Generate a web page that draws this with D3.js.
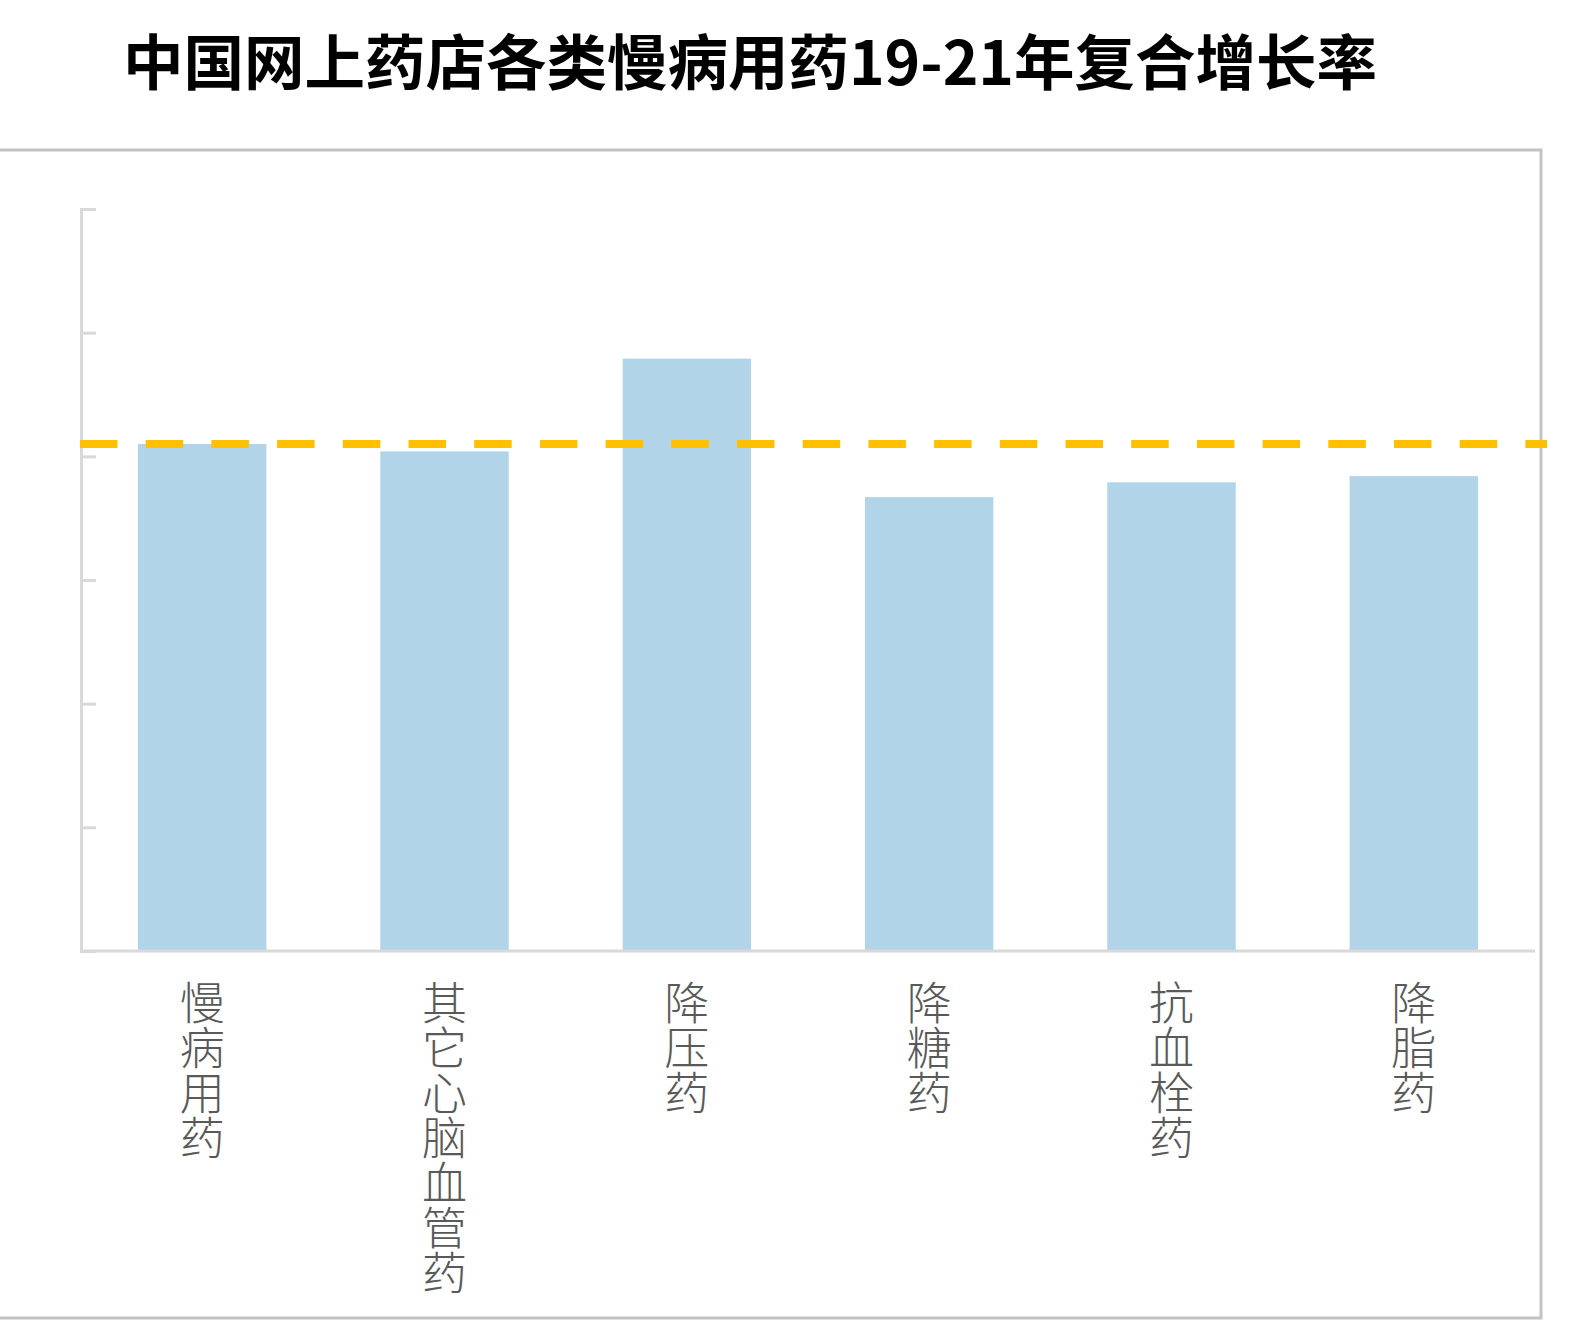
<!DOCTYPE html>
<html>
<head>
<meta charset="utf-8">
<script src="https://cdn.jsdelivr.net/npm/d3@7"></script>
<style>
  html, body { margin: 0; padding: 0; background: #fff; }
  svg { display: block; }
</style>
</head>
<body>
<div id="chart"></div>
<script>
// 各类慢病用药 19-21年复合增长率
const categories = ["慢病用药", "其它心脑血管药", "降压药", "降糖药", "抗血栓药", "降脂药"];
const growthRates = [0.410, 0.404, 0.479, 0.367, 0.379, 0.384];
const averageRate = 0.410;
const yTicks = [0, 0.1, 0.2, 0.3, 0.4, 0.5, 0.6];

const W = 1576, H = 1331;
const plotLeft = 81, plotRight = 1535, plotTop = 209, plotBottom = 951;

const svg = d3.select("#chart").append("svg")
    .attr("width", W)
    .attr("height", H);

// outer frame
svg.append("rect")
    .attr("x", -3).attr("y", 150)
    .attr("width", 1544).attr("height", 1168)
    .attr("fill", "none")
    .attr("stroke", "#c3c3c3")
    .attr("stroke-width", 3);

svg.append("text")
    .attr("x", 750).attr("y", 85)
    .attr("text-anchor", "middle")
    .style("font-family", "'Noto Sans CJK SC', sans-serif")
    .style("font-weight", "bold")
    .style("font-size", "60.5px")
    .attr("fill", "#000")
    .text("中国网上药店各类慢病用药19-21年复合增长率");

const x = d3.scaleBand().domain(categories).range([plotLeft, plotRight]).paddingInner(0.47).paddingOuter(0.235);
const y = d3.scaleLinear().domain([0, 0.6]).range([plotBottom, plotTop]);

// y axis, no labels, ticks pointing inward
const yAxisG = svg.append("g")
    .attr("transform", `translate(${plotLeft},0)`)
    .call(d3.axisLeft(y).tickValues(yTicks).tickSize(-15).tickFormat(""));
yAxisG.selectAll("path, line").attr("stroke", "#d9d9d9").attr("stroke-width", 3);

svg.selectAll(".bar")
    .data(categories)
    .join("rect")
    .attr("class", "bar")
    .attr("x", d => x(d))
    .attr("y", (d, i) => y(growthRates[i]))
    .attr("width", x.bandwidth())
    .attr("height", (d, i) => plotBottom - y(growthRates[i]))
    .attr("fill", "#b2d4e9");

// x axis baseline
svg.append("line")
    .attr("x1", plotLeft).attr("x2", plotRight)
    .attr("y1", plotBottom).attr("y2", plotBottom)
    .attr("stroke", "#d9d9d9")
    .attr("stroke-width", 3);

// average line
svg.append("line")
    .attr("x1", plotLeft - 1).attr("x2", 1547)
    .attr("y1", y(averageRate)).attr("y2", y(averageRate))
    .attr("stroke", "#ffc000")
    .attr("stroke-width", 8)
    .attr("stroke-dasharray", "37.5 28.2");

// vertical category labels
svg.selectAll(".cat")
    .data(categories)
    .join("text")
    .attr("class", "cat")
    .attr("x", d => x(d) + x.bandwidth() / 2)
    .attr("y", 980)
    .style("writing-mode", "vertical-rl")
    .style("text-orientation", "upright")
    .style("font-family", "'Noto Sans CJK SC', sans-serif")
    .style("font-weight", "300")
    .style("font-size", "45px")
    .attr("fill", "#595959")
    .text(d => d);
</script>
</body>
</html>
